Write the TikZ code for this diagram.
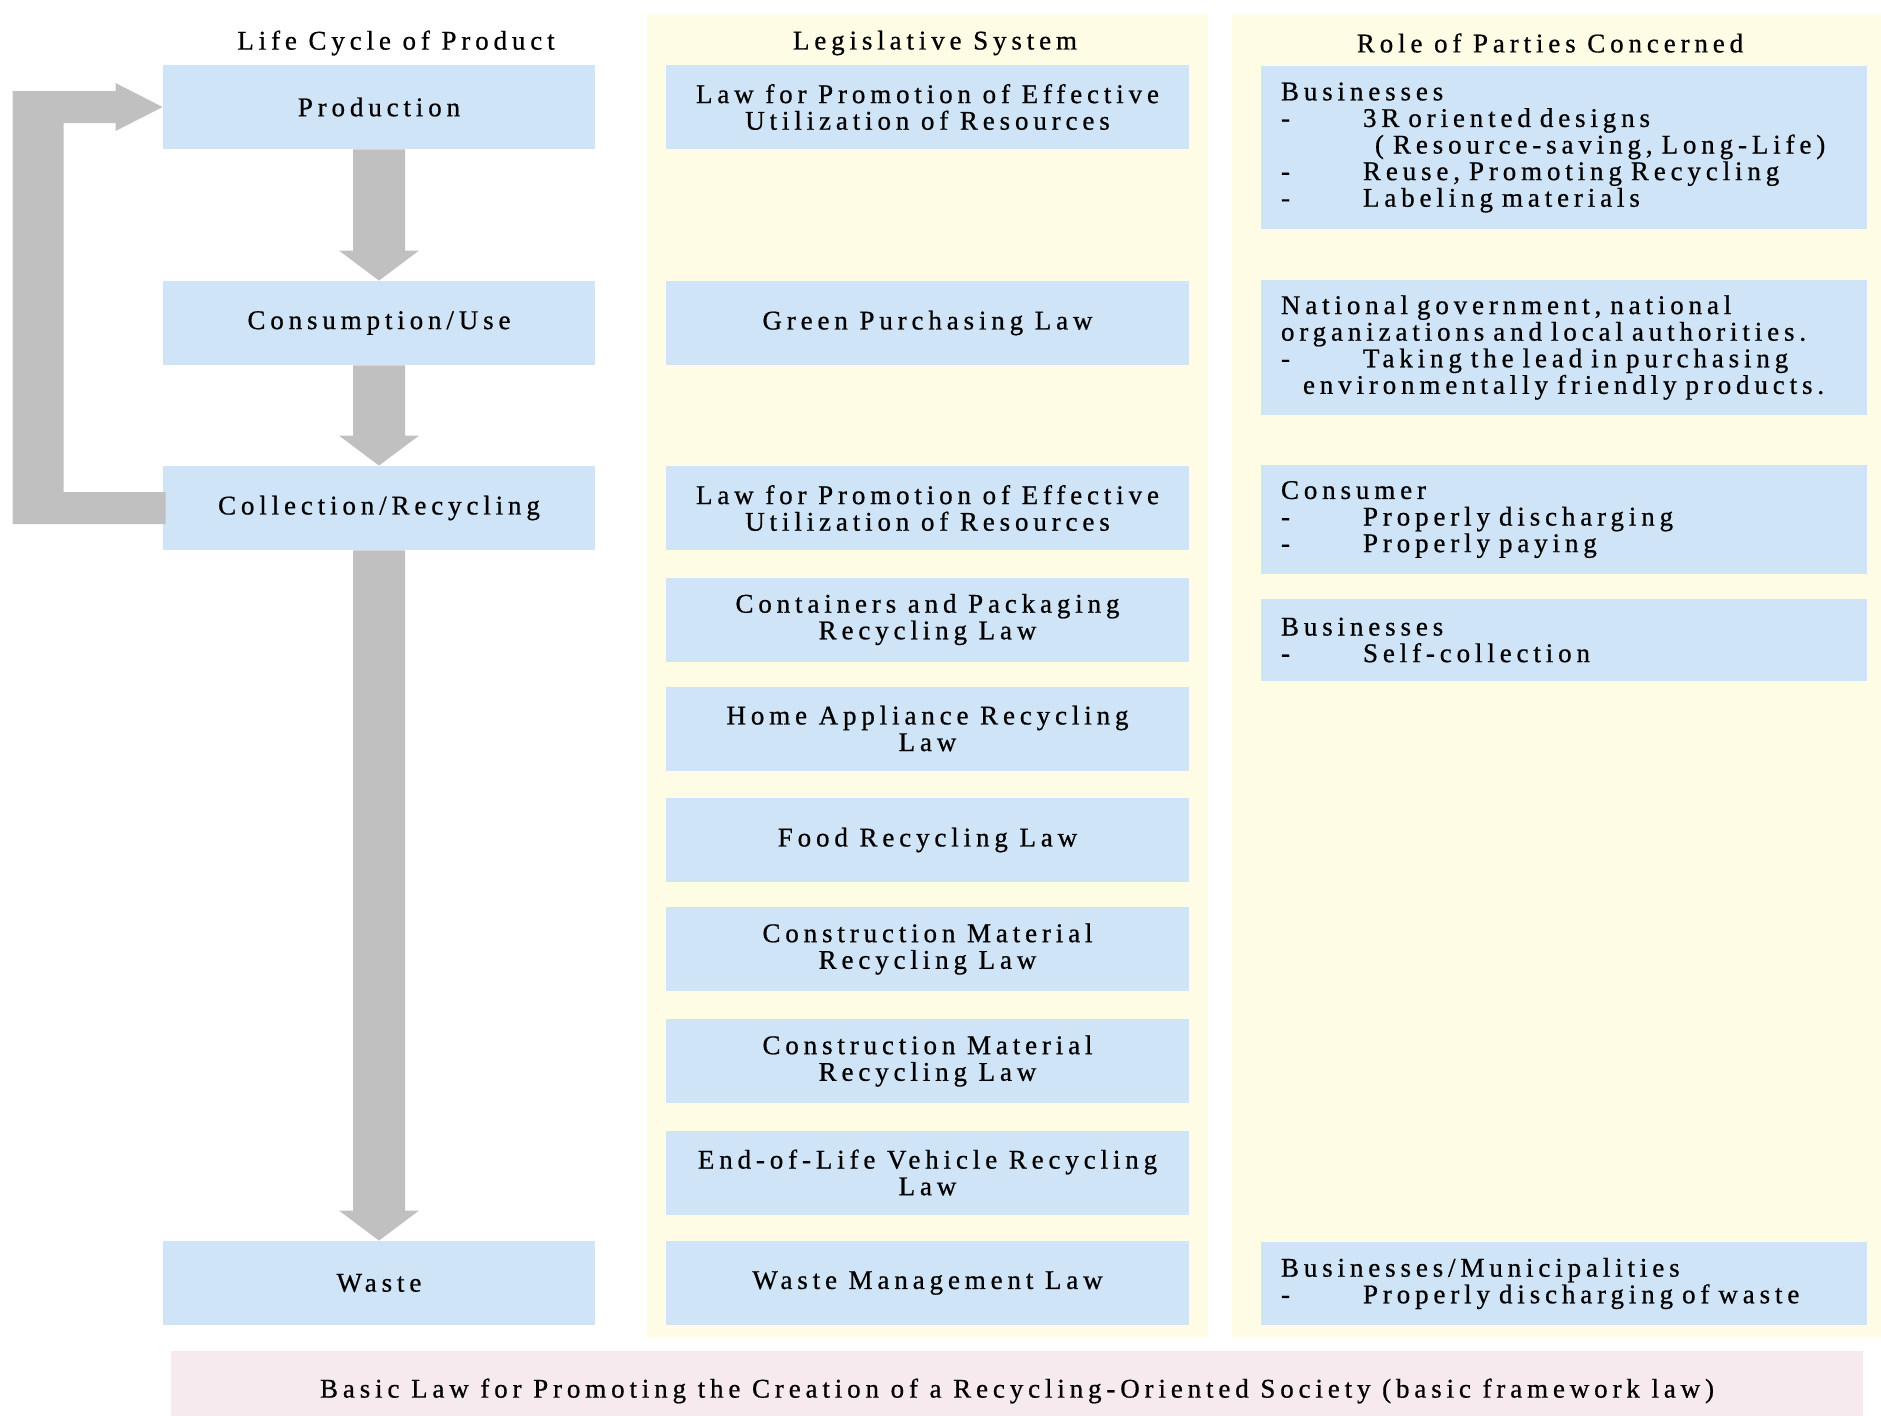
\documentclass[tikz,border=0pt]{standalone}
\usepackage{fontspec}
\setmainfont{Liberation Serif}[LetterSpace=18,FakeBold=0.7]
\usetikzlibrary{calc}

\definecolor{boxblue}{RGB}{208,228,247}
\definecolor{colyellow}{RGB}{254,252,229}
\definecolor{basepink}{RGB}{247,234,238}
\definecolor{arrowgray}{RGB}{192,192,192}

\tikzset{
  txt/.style={font=\fontsize{13.5}{13.3}\selectfont},
  cyclebox/.style={txt, fill=boxblue, minimum width=216pt, minimum height=42pt, inner sep=0pt, align=center},
  lawbox/.style={txt, fill=boxblue, minimum width=261.5pt, minimum height=42pt, inner sep=0pt, align=center},
  rolebox/.style={txt, fill=boxblue, text width=283pt, inner xsep=10pt, inner ysep=0pt, align=left},
  coltitle/.style={txt, inner sep=0pt}
}
\newcommand{\dash}{\makebox[41pt][l]{-}}

\begin{document}
\begin{tikzpicture}[x=0.5pt,y=-0.5pt]
\useasboundingbox (0,0) rectangle (1881,1415);

\fill[colyellow] (647,14) rectangle (1208,1337);
\fill[colyellow] (1232,14) rectangle (1881,1337);

\node[coltitle] (t1) at (396,43) {Life Cycle of Product};
\node[coltitle] (t2) at (935,43) {Legislative System};
\node[coltitle] (t3) at (1550,43) {Role of Parties Concerned};

\node[cyclebox] (prod) at (379,107) {Production};
\node[cyclebox] (cons) at (379,323) {Consumption/Use};
\node[cyclebox] (coll) at (379,508) {Collection/Recycling};
\node[cyclebox] (waste) at (379,1283) {Waste};

\node[lawbox] (law1) at (927.5,107) {Law for Promotion of Effective\\Utilization of Resources};
\node[lawbox] (green) at (927.5,323) {Green Purchasing Law};
\node[lawbox] (law2) at (927.5,508) {Law for Promotion of Effective\\Utilization of Resources};
\node[lawbox] (pack) at (927.5,619.5) {Containers and Packaging\\Recycling Law};
\node[lawbox] (home) at (927.5,728.5) {Home Appliance Recycling\\Law};
\node[lawbox] (food) at (927.5,840) {Food Recycling Law};
\node[lawbox] (build1) at (927.5,949) {Construction Material\\Recycling Law};
\node[lawbox] (build2) at (927.5,1061) {Construction Material\\Recycling Law};
\node[lawbox] (car) at (927.5,1172.5) {End-of-Life Vehicle Recycling\\Law};
\node[lawbox] (wml) at (927.5,1283) {Waste Management Law};

\node[rolebox, minimum height=81.5pt] (role1) at (1564,147.5) {Businesses\\
\dash 3R oriented designs\\
\hspace*{47pt}( Resource-saving, Long-Life)\\
\dash Reuse, Promoting Recycling\\
\dash Labeling materials};
\node[rolebox, minimum height=67.5pt] (role2) at (1564,347.5) {National government, national\\
organizations and local authorities.\\
\dash Taking the lead in purchasing\\
\hspace*{11pt}environmentally friendly products.};
\node[rolebox, minimum height=54.5pt] (role3) at (1564,519.5) {Consumer\\
\dash Properly discharging\\
\dash Properly paying};
\node[rolebox, minimum height=41pt] (role4) at (1564,640) {Businesses\\
\dash Self-collection};
\node[rolebox, minimum height=41.5pt] (role5) at (1564,1283.5) {Businesses/Municipalities\\
\dash Properly discharging of waste};

\node[txt, fill=basepink, minimum width=846pt, minimum height=40pt, inner sep=0pt] (basic) at (1017,1391) {Basic Law for Promoting the Creation of a Recycling-Oriented Society (basic framework law)};

\foreach \a/\b in {prod/cons,cons/coll,coll/waste}
  \fill[arrowgray] ($(\a.south)+(-26,0)$) -- ($(\a.south)+(26,0)$) -- ($(\b.north)+(26,-30)$) -- ($(\b.north)+(40,-30)$) -- (\b.north) -- ($(\b.north)+(-40,-30)$) -- ($(\b.north)+(-26,-30)$) -- cycle;

\fill[arrowgray] ($(coll.west)+(3,16)$) -| ($(prod.west)+(-150,-16)$) -- ($(prod.west)+(-47,-16)$) -- ($(prod.west)+(-47,-24)$) -- (prod.west) -- ($(prod.west)+(-47,24)$) -- ($(prod.west)+(-47,16)$) -- ($(prod.west)+(-99,16)$) |- ($(coll.west)+(3,-16)$) -- cycle;

\end{tikzpicture}
\end{document}
